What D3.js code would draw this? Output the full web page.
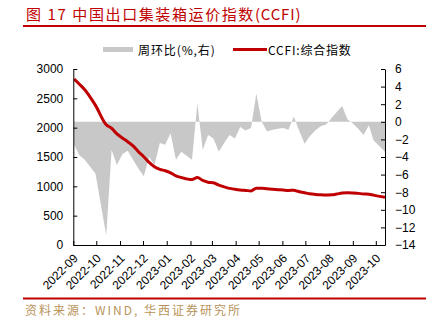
<!DOCTYPE html>
<html>
<head>
<meta charset="utf-8">
<script src="https://cdn.jsdelivr.net/npm/d3@7"></script>
<style>
  html, body { margin: 0; padding: 0; background: #fff; }
  svg { display: block; }
  .axis text { font-family: "Liberation Sans", Arial, sans-serif; font-size: 12px; fill: #000; }
  .axis path, .axis line { stroke: #000; stroke-width: 1; }
</style>
</head>
<body>
<svg id="chart" width="437" height="322"></svg>
<script>
// ---------------- data ----------------
const dates = [
  "2022-09-02","2022-09-09","2022-09-16","2022-09-23","2022-09-30","2022-10-14","2022-10-21","2022-10-28",
  "2022-11-04","2022-11-11","2022-11-18","2022-11-25","2022-12-02","2022-12-09","2022-12-16","2022-12-23",
  "2022-12-30","2023-01-06","2023-01-13","2023-01-20","2023-02-03","2023-02-10","2023-02-17","2023-02-24",
  "2023-03-03","2023-03-10","2023-03-17","2023-03-24","2023-03-31","2023-04-07","2023-04-14","2023-04-21",
  "2023-04-28","2023-05-05","2023-05-12","2023-05-19","2023-05-26","2023-06-02","2023-06-09","2023-06-16",
  "2023-06-21","2023-06-30","2023-07-07","2023-07-14","2023-07-21","2023-07-28","2023-08-04","2023-08-11",
  "2023-08-18","2023-08-25","2023-09-01","2023-09-08","2023-09-15","2023-09-22","2023-09-28","2023-10-13"
];
const ccfi = [
  2830, 2740, 2645, 2520, 2380, 2050, 1990, 1895,
  1825, 1760, 1690, 1590, 1505, 1410, 1335, 1290,
  1265, 1230, 1180, 1150, 1115, 1150, 1100, 1070,
  1060, 1020, 990, 965, 950, 938, 930, 922,
  968, 968, 958, 950, 943, 936, 930, 935,
  915, 892, 872, 862, 855, 852, 855, 868,
  885, 890, 888, 880, 870, 866, 850, 815
];
const wow = [
  -2.6, -3.8, -4.3, -5.1, -5.9, -12.9, -3.2, -4.9,
  -3.7, -3.3, -4.3, -5.3, -6.2, -4.0, -4.9, -2.4,
  -2.6, -1.3, -4.3, -3.4, -4.3, 2.1, -3.2, -1.5,
  -1.9, -3.4, -2.4, -1.5, -1.9, -0.6, -1.0, -0.7,
  3.2, 0.0, -1.1, -0.9, -0.8, -0.7, -0.9, 0.6,
  -0.6, -2.5, -1.6, -1.0, -0.5, -0.3, 0.4, 1.1,
  1.8, 0.3, -0.2, -0.8, -1.5, -0.4, -2.1, -3.4
];
const monthLabels = ["2022-09","2022-10","2022-11","2022-12","2023-01","2023-02","2023-03",
                     "2023-04","2023-05","2023-06","2023-07","2023-08","2023-09","2023-10"];
const leftTicks = [0, 500, 1000, 1500, 2000, 2500, 3000];
const rightTicks = [6, 4, 2, 0, -2, -4, -6, -8, -10, -12, -14];
const xDomain = ["2022-09-01", "2023-10-13"];

// ---------------- drawing ----------------
const parseDay = d3.timeParse("%Y-%m-%d");
const parseMonth = d3.timeParse("%Y-%m");
const rows = dates.map((d, i) => ({ date: parseDay(d), ccfi: ccfi[i], wow: wow[i] }));

const svg = d3.select("#chart");
const plot = { left: 73.3, right: 385, top: 69, bottom: 245 };

const x = d3.scaleTime().domain(xDomain.map(parseDay)).range([plot.left, plot.right]);
const yL = d3.scaleLinear().domain([0, 3000]).range([plot.bottom, plot.top]);
const yR = d3.scaleLinear().domain([-14, 6]).range([plot.bottom, plot.top]);

const red = "#c00000";
const grey = "#c8c8c8";
const cjk = "'Noto Sans CJK SC', sans-serif";

// title
const title = svg.append("text")
  .attr("x", 26).attr("y", 20)
  .attr("font-family", cjk)
  .attr("font-size", 15)
  .attr("fill", red);
title.append("tspan").attr("letter-spacing", 1.6).text("图 17 中国出口集装箱运价指数");
title.append("tspan").attr("letter-spacing", 0.8).text("(CCFI)");
svg.append("line")
  .attr("x1", 23).attr("x2", 426).attr("y1", 26).attr("y2", 26)
  .attr("stroke", red).attr("stroke-width", 2);

// legend
svg.append("rect").attr("x", 103).attr("y", 47).attr("width", 30).attr("height", 5).attr("fill", grey);
svg.append("text").attr("x", 138).attr("y", 54.5)
  .attr("font-family", cjk).attr("font-size", 12).attr("letter-spacing", 0.9)
  .attr("fill", "#000").text("周环比(%,右)");
svg.append("line").attr("x1", 233).attr("x2", 267).attr("y1", 49.5).attr("y2", 49.5)
  .attr("stroke", red).attr("stroke-width", 3);
svg.append("text").attr("x", 268).attr("y", 54.5)
  .attr("font-family", cjk).attr("font-size", 12).attr("letter-spacing", 0.8)
  .attr("fill", "#000").text("CCFI:综合指数");

// grey area (right axis)
const area = d3.area()
  .x(d => x(d.date))
  .y0(yR(0))
  .y1(d => yR(d.wow));
svg.append("path").datum(rows).attr("d", area).attr("fill", grey);

// CCFI line (left axis)
const line = d3.line().x(d => x(d.date)).y(d => yL(d.ccfi)).curve(d3.curveMonotoneX);
svg.append("path").datum(rows).attr("d", line)
  .attr("fill", "none").attr("stroke", red).attr("stroke-width", 3).attr("stroke-linejoin", "round");

// axes
svg.append("g").attr("class", "axis")
  .attr("transform", `translate(${plot.left},0)`)
  .call(d3.axisLeft(yL).tickValues(leftTicks).tickFormat(d3.format("d"))
        .tickSize(-4).tickSizeOuter(0).tickPadding(10));

svg.append("g").attr("class", "axis")
  .attr("transform", `translate(${plot.right},0)`)
  .call(d3.axisRight(yR).tickValues(rightTicks).tickSize(-4).tickSizeOuter(0).tickPadding(10));

const xAxis = svg.append("g").attr("class", "axis")
  .attr("transform", `translate(0,${plot.bottom})`)
  .call(d3.axisBottom(x).tickValues(monthLabels.map(parseMonth)).tickSize(-4).tickSizeOuter(0)
        .tickFormat(d3.timeFormat("%Y-%m")));
xAxis.selectAll("text")
  .attr("text-anchor", "end")
  .attr("y", 0).attr("dy", 0)
  .attr("transform", "translate(5,14) rotate(-45)");

// source
svg.append("line")
  .attr("x1", 23).attr("x2", 426).attr("y1", 298.5).attr("y2", 298.5)
  .attr("stroke", red).attr("stroke-width", 2);
svg.append("text")
  .attr("x", 25).attr("y", 315)
  .attr("font-family", cjk)
  .attr("font-size", 12).attr("letter-spacing", 2)
  .attr("fill", "#b8935a")
  .text("资料来源：WIND, 华西证券研究所");
</script>
</body>
</html>
